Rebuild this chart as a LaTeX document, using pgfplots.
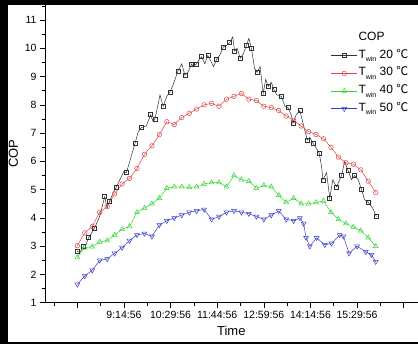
\documentclass[border=0pt]{standalone}
\usepackage{pgfplots}
\pgfplotsset{compat=1.18}
\usepackage{pgfplotstable}
\usepackage{fontspec}
\setmainfont{Liberation Sans}
\newfontfamily\cjk{Noto Sans CJK SC}
\definecolor{cblk}{RGB}{50,50,50}
\definecolor{cred}{RGB}{225,70,70}
\definecolor{cgrn}{RGB}{50,215,50}
\definecolor{cblu}{RGB}{60,60,205}
\newcommand{\Twin}{T\raisebox{-3.5pt}{\fontsize{7}{7}\selectfont win}}

\pgfplotstableread{
t y
0 2.82
4 2.78
10 3.0
14 3.05
18 3.3
21 3.4
28 3.65
36 4.05
44 4.75
48 4.35
52 4.6
60 5.0
63 5.1
75 5.65
79 5.6
87 6.2
93 6.65
98 7.05
103 7.2
111 7.25
118 7.65
122 7.4
125 7.5
133 8.35
138 7.95
144 8.3
149 8.45
154 8.7
162 9.2
168 9.45
173 9.05
178 9.15
184 9.45
186 9.35
192 9.45
196 9.6
200 9.7
205 9.45
210 9.75
219 9.35
224 9.6
229 9.75
235 10.05
240 10.1
245 10.2
250 10.4
253 9.9
257 10.0
262 9.65
267 9.8
272 10.1
276 10.35
280 10.0
285 9.3
289 9.15
294 9.35
299 8.4
303 8.9
307 8.65
312 8.8
316 8.55
321 8.35
328 8.3
334 7.95
339 7.9
344 7.65
347 7.35
352 7.65
358 7.8
363 7.35
370 6.75
374 6.85
379 6.65
385 6.45
389 6.3
393 5.8
395 5.35
401 5.6
406 4.7
411 5.35
417 5.1
421 5.3
425 5.5
430 6.0
435 5.7
441 5.35
446 5.5
452 5.35
457 5.0
462 4.65
468 4.55
475 4.35
481 4.05
}\tblack

\pgfplotstableread{
t y
0 3.02
12 3.47
24 3.7
36 4.2
48 4.4
60 4.85
72 5.2
84 5.4
96 5.75
108 6.25
120 6.55
132 6.95
144 7.4
156 7.3
168 7.55
180 7.7
192 7.85
204 8.0
216 8.05
228 7.95
240 8.2
252 8.3
264 8.4
276 8.2
288 8.15
300 7.95
312 7.9
324 7.8
336 7.6
348 7.45
360 7.25
372 7.05
384 6.95
396 6.8
408 6.5
420 6.15
432 5.95
444 5.9
456 5.7
468 5.3
480 4.9
}\tred

\pgfplotstableread{
t y
0 2.6
12 2.95
24 2.98
36 3.15
48 3.2
60 3.4
72 3.6
84 3.7
96 4.2
108 4.35
120 4.5
132 4.7
144 5.05
156 5.1
168 5.1
180 5.08
192 5.1
204 5.2
216 5.25
228 5.25
240 5.1
252 5.5
264 5.35
276 5.3
288 5.05
300 5.15
312 5.1
324 4.8
336 4.55
348 4.7
360 4.5
372 4.5
384 4.55
396 4.6
408 4.2
420 3.95
432 3.8
444 3.68
456 3.55
468 3.3
480 3.0
}\tgreen

\pgfplotstableread{
t y
0 1.65
12 1.95
24 2.15
36 2.5
48 2.55
60 2.75
72 2.95
84 3.2
96 3.4
108 3.45
120 3.35
132 3.75
144 3.9
156 4.0
168 4.1
180 4.2
192 4.25
204 4.3
216 3.95
228 4.05
240 4.2
252 4.25
264 4.2
276 4.15
288 4.05
300 3.95
312 4.1
324 4.25
336 3.95
348 3.9
358 4.0
364 3.8
368 3.3
374 3.0
385 3.3
398 3.05
409 3.1
422 3.4
428 3.35
437 2.75
450 3.0
464 2.8
473 2.7
480 2.45
}\tblue

\begin{document}
\begin{tikzpicture}
\fill[black] (0pt,0pt) rectangle (418pt,344pt);
\fill[white] (8pt,2pt) rectangle (418pt,339pt);
\begin{axis}[
  at={(45pt,41pt)}, anchor=south west,
  scale only axis, width=373pt, height=298pt,
  xmin=-52, xmax=547.5, ymin=1, ymax=11.53,
  axis x line*=bottom, axis y line*=left,
  axis line style={-, line width=0.6pt},
  tick align=outside,
  major tick length=5pt, minor tick length=3pt,
  every tick/.style={black, line width=0.6pt},
  xtick={0,75,150,225,300,375,450,525},
  xticklabels={,9:14:56,10:29:56,11:44:56,12:59:56,14:14:56,15:29:56,},
  minor xtick={-37.5,37.5,112.5,187.5,262.5,337.5,412.5,487.5},
  ytick={1,2,...,11},
  minor ytick={1.5,2.5,...,11.5},
  tick label style={font=\fontsize{10.5}{10.5}\selectfont},
  /pgf/number format/assume math mode=true,
  xlabel={Time}, ylabel={COP},
  label style={font=\fontsize{13}{13}\selectfont},
  legend style={draw=none, fill=none, at={(axis description cs:0.767,0.915)}, anchor=north west,
    inner sep=0pt, row sep=2.7pt, font=\fontsize{12}{12}\selectfont,
    nodes={inner sep=1pt, text height=9pt, text depth=4pt}},
  legend cell align=left,
  legend image code/.code={\draw[mark repeat=2,mark phase=2] plot coordinates {(0pt,0pt) (13pt,0pt) (26pt,0pt)};},
  every axis plot/.append style={line width=0.5pt},
]
\addlegendimage{empty legend}
\addlegendentry{COP}
\addplot[cblk, mark=square, mark size=2pt, mark repeat=2, mark options={fill=white, solid}] table[x=t,y=y] {\tblack};
\addlegendentry{\Twin\ 20 {\cjk ℃}}
\addplot[cred, mark=o, mark size=2.3pt, mark options={fill=white}] table[x=t,y=y] {\tred};
\addlegendentry{\Twin\ 30 {\cjk ℃}}
\addplot[cgrn, mark=triangle, mark size=2.8pt, mark options={fill=white}] table[x=t,y=y] {\tgreen};
\addlegendentry{\Twin\ 40 {\cjk ℃}}
\addplot[cblu, mark=triangle, mark size=2.8pt, mark options={fill=white, rotate=180}] table[x=t,y=y] {\tblue};
\addlegendentry{\Twin\ 50 {\cjk ℃}}
\end{axis}
\end{tikzpicture}
\end{document}
